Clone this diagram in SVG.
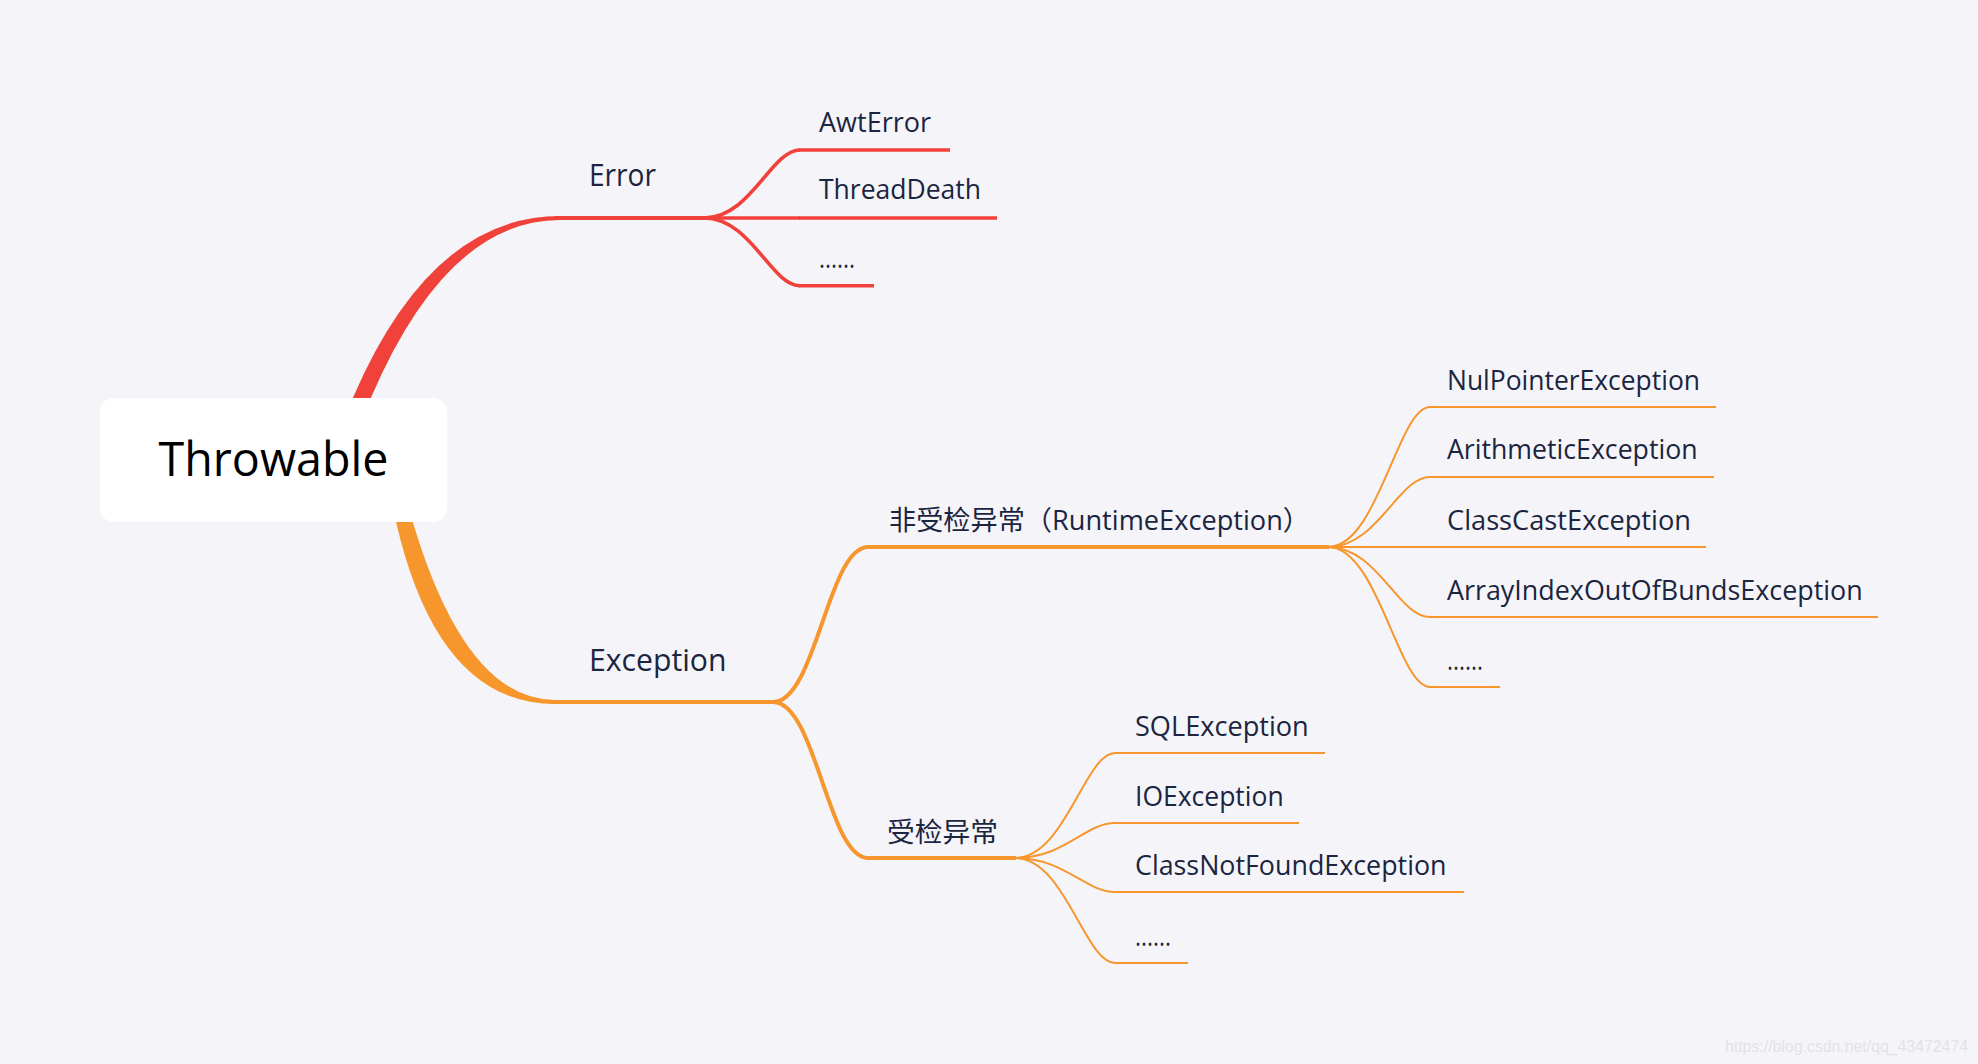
<svg xmlns="http://www.w3.org/2000/svg" width="1978" height="1064" viewBox="0 0 1978 1064">
<style>
  .t { font-family: "Open Sans", "Noto Sans CJK SC", sans-serif; fill: #1b2540; }
  .l1 { font-size: 31px; }
  .l2 { font-size: 27px; }
  .red { stroke: #f0423a; fill: none; stroke-linecap: butt; }
  .org { stroke: #f8962e; fill: none; stroke-linecap: butt; }
  .w4 { stroke-width: 4; }
  .w3 { stroke-width: 3.6; }
  .w2 { stroke-width: 2; }
</style>
<rect x="0" y="0" width="1978" height="1064" fill="#f5f5f9"/>

<g id="connectors">
  <!-- root to Error (tapered) -->
  <path d="M338.9 430 L352.7 398.3 Q431 216 560 216 L560 220 Q447 220 370.7 398.3 L357 430 Z" fill="#f0423a"/>
  <!-- root to Exception (tapered) -->
  <path d="M391 500 L396 521.7 Q438 704 555 704 L555 700 Q466 700 412.7 521.7 L406 500 Z" fill="#f8962e"/>
  <!-- Error children -->
  <path class="red w3" d="M704 218 C751 218 771 150 800 150"/>
  <path class="red w3" d="M704 218 L800 218"/>
  <path class="red w3" d="M704 218 C751 218 771 285.7 800 285.7"/>
  <!-- Exception children -->
  <path class="org w4" d="M773 702 C816 702 828 547 868 547"/>
  <path class="org w4" d="M773 702 C816 702 828 858 868 858"/>
  <!-- Runtime children -->
  <path class="org w2" d="M1328 547 C1378 547 1398 407 1430 407"/>
  <path class="org w2" d="M1328 547 C1378 547 1398 477 1430 477"/>
  <path class="org w2" d="M1328 547 L1430 547"/>
  <path class="org w2" d="M1328 547 C1378 547 1398 617 1430 617"/>
  <path class="org w2" d="M1328 547 C1378 547 1398 687 1430 687"/>
  <!-- Checked children -->
  <path class="org w2" d="M1015 858 C1065 858 1085 753 1115 753"/>
  <path class="org w2" d="M1015 858 C1065 858 1085 823 1115 823"/>
  <path class="org w2" d="M1015 858 C1065 858 1085 892 1115 892"/>
  <path class="org w2" d="M1015 858 C1065 858 1085 963 1115 963"/>
</g>

<g id="node-throwable">
  <rect x="100" y="398" width="347" height="124" rx="14" ry="14" fill="#ffffff"/>
  <text x="273.5" y="476" text-anchor="middle" font-family="'Open Sans', sans-serif" font-size="47" fill="#000000" textLength="230" lengthAdjust="spacingAndGlyphs">Throwable</text>
</g>

<g id="node-error">
  <line class="red w4" x1="555" y1="218" x2="706" y2="218"/>
  <text class="t l1" x="589" y="186" textLength="67" lengthAdjust="spacingAndGlyphs">Error</text>
</g>
<g id="node-awterror">
  <line class="red w3" x1="799" y1="150" x2="950" y2="150"/>
  <text class="t l2" x="819" y="132" textLength="112" lengthAdjust="spacingAndGlyphs">AwtError</text>
</g>
<g id="node-threaddeath">
  <line class="red w3" x1="799" y1="218" x2="997" y2="218"/>
  <text class="t l2" x="819" y="199" textLength="162" lengthAdjust="spacingAndGlyphs">ThreadDeath</text>
</g>
<g id="node-error-more">
  <line class="red w3" x1="799" y1="285.7" x2="874" y2="285.7"/>
  <text class="t l2" x="819" y="268" textLength="36" lengthAdjust="spacingAndGlyphs">......</text>
</g>

<g id="node-exception">
  <line class="org w4" x1="550" y1="702" x2="775" y2="702"/>
  <text class="t l1" x="589" y="671" textLength="137.5" lengthAdjust="spacingAndGlyphs">Exception</text>
</g>

<g id="node-runtime">
  <line class="org w4" x1="867" y1="547" x2="1329" y2="547"/>
  <text class="t l2" x="889" y="530" textLength="421" lengthAdjust="spacingAndGlyphs">非受检异常（RuntimeException）</text>
</g>
<g id="node-nullpointer">
  <line class="org w2" x1="1429" y1="407" x2="1716" y2="407"/>
  <text class="t l2" x="1447" y="390" textLength="253" lengthAdjust="spacingAndGlyphs">NulPointerException</text>
</g>
<g id="node-arithmetic">
  <line class="org w2" x1="1429" y1="477" x2="1714" y2="477"/>
  <text class="t l2" x="1447" y="459" textLength="250.6" lengthAdjust="spacingAndGlyphs">ArithmeticException</text>
</g>
<g id="node-classcast">
  <line class="org w2" x1="1429" y1="547" x2="1706" y2="547"/>
  <text class="t l2" x="1447" y="530" textLength="244" lengthAdjust="spacingAndGlyphs">ClassCastException</text>
</g>
<g id="node-arrayindex">
  <line class="org w2" x1="1429" y1="617" x2="1878" y2="617"/>
  <text class="t l2" x="1447" y="600" textLength="415.7" lengthAdjust="spacingAndGlyphs">ArrayIndexOutOfBundsException</text>
</g>
<g id="node-runtime-more">
  <line class="org w2" x1="1429" y1="687" x2="1500" y2="687"/>
  <text class="t l2" x="1447" y="670" textLength="36" lengthAdjust="spacingAndGlyphs">......</text>
</g>

<g id="node-checked">
  <line class="org w4" x1="867" y1="858" x2="1016" y2="858"/>
  <text class="t l2" x="887" y="842" textLength="111" lengthAdjust="spacingAndGlyphs">受检异常</text>
</g>
<g id="node-sql">
  <line class="org w2" x1="1114" y1="753" x2="1325" y2="753"/>
  <text class="t l2" x="1135" y="736" textLength="173.7" lengthAdjust="spacingAndGlyphs">SQLException</text>
</g>
<g id="node-io">
  <line class="org w2" x1="1114" y1="823" x2="1299" y2="823"/>
  <text class="t l2" x="1135" y="806" textLength="148.7" lengthAdjust="spacingAndGlyphs">IOException</text>
</g>
<g id="node-classnotfound">
  <line class="org w2" x1="1114" y1="892" x2="1464" y2="892"/>
  <text class="t l2" x="1135" y="875" textLength="311.5" lengthAdjust="spacingAndGlyphs">ClassNotFoundException</text>
</g>
<g id="node-checked-more">
  <line class="org w2" x1="1114" y1="963" x2="1188" y2="963"/>
  <text class="t l2" x="1135" y="946" textLength="36" lengthAdjust="spacingAndGlyphs">......</text>
</g>

<text x="1725" y="1052" font-family="'Liberation Sans', Arial, sans-serif" font-size="16" fill="#e2e2e8" textLength="243" lengthAdjust="spacingAndGlyphs">https://blog.csdn.net/qq_43472474</text>
</svg>
